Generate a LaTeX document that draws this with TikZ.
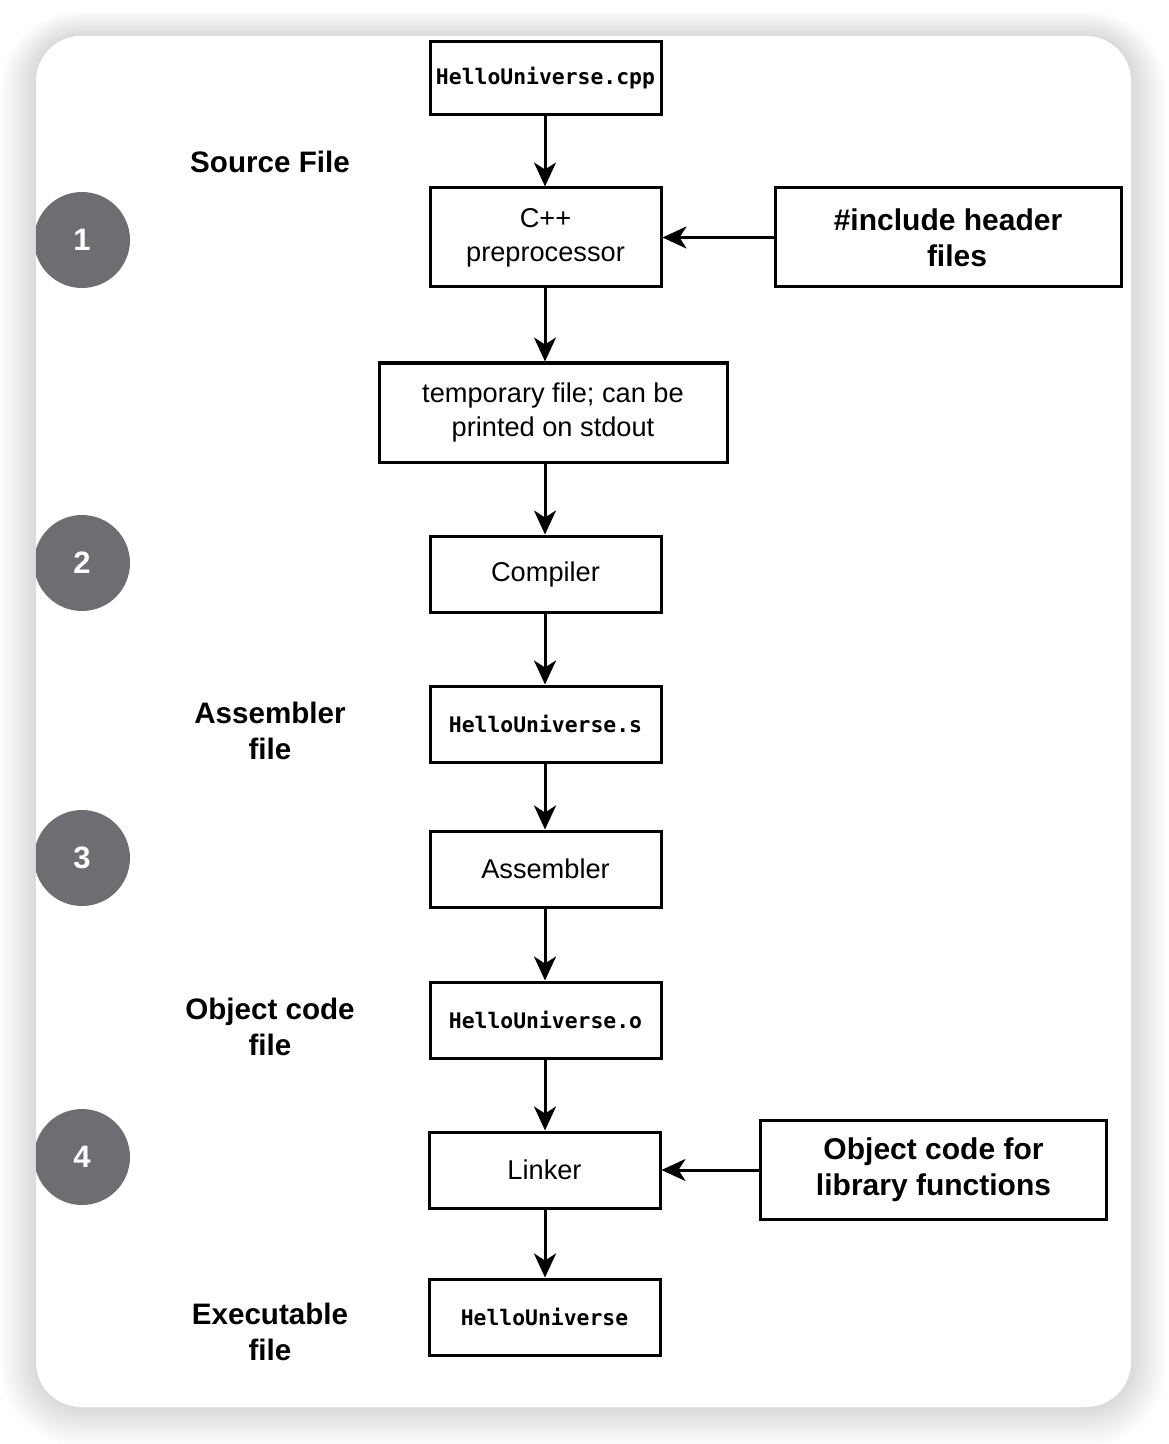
\documentclass[tikz,border=0pt]{standalone}
\usepackage{fontspec}
\setmainfont{Liberation Sans}
\newfontfamily\codefont{DejaVu Sans Mono}
\usetikzlibrary{arrows.meta}

\definecolor{stepgray}{HTML}{6D6E71}

\tikzset{
  stagebox/.style={draw=black, line width=1.5pt, fill=white, inner sep=0pt,
    minimum width=115.5pt, minimum height=38pt, align=center,
    font=\fontsize{13.6}{17}\selectfont},
  filebox/.style={stagebox, font=\codefont\bfseries\fontsize{10.7}{13}\selectfont},
  inputbox/.style={stagebox, minimum width=173pt, minimum height=49.5pt,
    font=\bfseries\fontsize{15}{18}\selectfont},
  sidelabel/.style={align=center, font=\bfseries\fontsize{14.8}{18}\selectfont},
  stepdot/.style={circle, fill=stepgray, minimum size=48pt, inner sep=0pt,
    text=white, font=\bfseries\fontsize{15.5}{18}\selectfont},
  flow/.style={line width=1.5pt, -{Stealth[length=12pt,width=11pt,inset=3.5pt]}},
}

\begin{document}
\begin{tikzpicture}[x=0.5pt,y=-0.5pt]
  \useasboundingbox (0,0) rectangle (1168,1444);
  \fill[white] (0,0) rectangle (1168,1444);

  % soft shadow around the card, densest next to its edge
  \foreach \i in {1,...,18} {
    \fill[black, fill opacity=0.008, rounded corners=22.5pt+\i pt]
      (36-2*\i, 36-1.4*\i) rectangle (1131+2*\i, 1407+2.2*\i);
  }
  % card
  \fill[white, rounded corners=22.5pt] (36,36) rectangle (1131,1407);

  % numbered step markers, cut by the card's left edge
  \begin{scope}
    \clip[rounded corners=22.5pt] (36,36) rectangle (1131,1407);
    \node[stepdot] (s1) at (82,240)  {1};
    \node[stepdot] (s2) at (82,563)  {2};
    \node[stepdot] (s3) at (82,858)  {3};
    \node[stepdot] (s4) at (82,1157) {4};
  \end{scope}

  % main pipeline
  \node[filebox] (cpp) at (545.5,78.5) [minimum height=36.5pt] {HelloUniverse.cpp};
  \node[stagebox] (pre) at (545.5,237.5) [minimum height=49.5pt] {C++\\preprocessor};
  \node[stagebox] (tmp) at (553,412.5) [minimum width=174pt, minimum height=49.5pt]
    {temporary file; can be\\printed on stdout};
  \node[stagebox] (comp) at (545.5,574) {Compiler};
  \node[filebox] (asmf) at (545.5,724) {HelloUniverse.s};
  \node[stagebox] (asm) at (545.5,869) {Assembler};
  \node[filebox] (obj) at (545.5,1020) {HelloUniverse.o};
  \node[stagebox] (link) at (544.5,1170) {Linker};
  \node[filebox] (exe) at (544.5,1317) {HelloUniverse};

  % side inputs
  \node[inputbox] (hdr) at (948,237.5) {\#include header\\\hspace*{9pt}files};
  \node[inputbox] (lib) at (933.5,1170) {Object code for\\library functions};

  % stage labels
  \node[sidelabel] (lsrc) at (270,162) {Source File};
  \node[sidelabel] (lasm) at (270,731) {Assembler\\file};
  \node[sidelabel] (lobj) at (270,1027) {Object code\\file};
  \node[sidelabel] (lexe) at (270,1332) {Executable\\file};

  % connectors
  \draw[flow] (cpp.south -| 545,0) -- (pre.north -| 545,0);
  \draw[flow] (pre.south -| 545,0) -- (tmp.north -| 545,0);
  \draw[flow] (tmp.south -| 545,0) -- (comp.north -| 545,0);
  \draw[flow] (comp.south -| 545,0) -- (asmf.north -| 545,0);
  \draw[flow] (asmf.south -| 545,0) -- (asm.north -| 545,0);
  \draw[flow] (asm.south -| 545,0) -- (obj.north -| 545,0);
  \draw[flow] (obj.south -| 545,0) -- (link.north -| 545,0);
  \draw[flow] (link.south -| 545,0) -- (exe.north -| 545,0);
  \draw[flow] (hdr.west) -- (pre.east);
  \draw[flow] (lib.west) -- (link.east);
\end{tikzpicture}
\end{document}
